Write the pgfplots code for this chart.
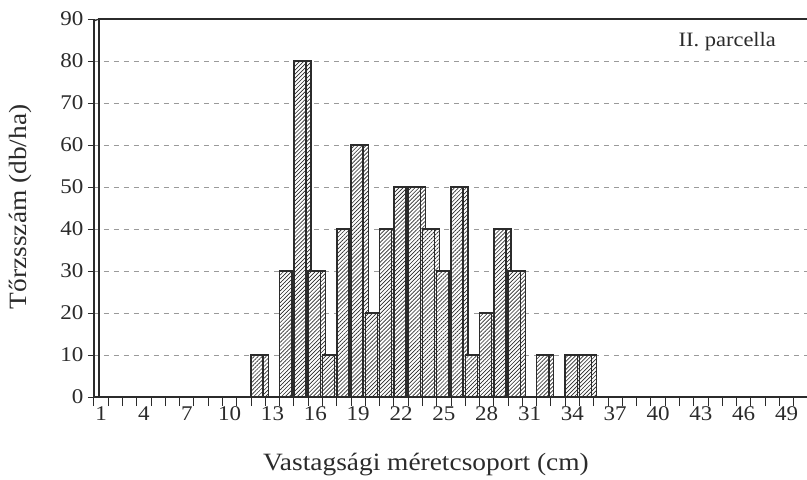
\documentclass[border=0pt]{standalone}
\usepackage{fontspec}
\setmainfont{Liberation Serif}
\newfontfamily\widefont[FakeStretch=1.1]{Liberation Serif}
\usepackage{pgfplots}
\pgfplotsset{compat=1.18}
\usetikzlibrary{patterns.meta}
\definecolor{ink}{HTML}{2B2B2B}
\definecolor{gridc}{HTML}{9A9A9A}
\pgfplotstableread{
x y
12 10
14 30
15 80
16 30
17 10
18 40
19 60
20 20
21 40
22 50
23 50
24 40
25 30
26 50
27 10
28 20
29 40
30 30
32 10
34 10
35 10
}\datatab
\begin{document}
\begin{tikzpicture}
\begin{axis}[
  scale only axis, width=714bp, height=378bp,
  xmin=0.5, xmax=50.5, ymin=0, ymax=90,
  axis x line=bottom, axis y line=left,
  x axis line style={ink, line width=2.5bp, -},
  y axis line style={ink, line width=1.2bp, -},
  tick align=outside,
  xtick={1,4,...,49},
  major x tick style={draw=none},
  minor xtick={0.5,1.5,...,50.5},
  minor x tick style={ink, line width=1bp},
  minor tick length=9bp,
  ytick={0,10,...,90},
  major y tick style={ink, line width=1bp},
  major tick length=6bp,
  ymajorgrids,
  y grid style={gridc, line width=0.6bp, dash pattern=on 5bp off 5bp},
  /pgf/number format/assume math mode=true,
  ticklabel style={font=\widefont\fontsize{21}{21}\selectfont, text=ink},
  xticklabel style={yshift=0bp},
  yticklabel style={xshift=-1bp},
  xlabel={Vastagsági méretcsoport (cm)},
  ylabel={Tőrzsszám (db/ha)},
  xlabel style={at={(axis description cs:0.465,0)}, yshift=-68bp, anchor=center, font=\widefont\fontsize{25}{25}\selectfont, text=ink},
  ylabel style={at={(axis description cs:-0.1036,0.503)}, anchor=center, font=\widefont\fontsize{25}{25}\selectfont, text=ink},
  clip=false,
]
\addplot[ybar, bar width=0.35, bar shift=0.525, draw=ink, line width=1.3bp, fill=white,
  postaction={pattern={Lines[angle=45,distance=2.8bp,line width=0.65bp]}, pattern color=ink}]
  table[x=x,y=y] {\datatab};
\addplot[ybar, bar width=0.85, bar shift=-0.075, draw=ink, line width=1.5bp, fill=white,
  postaction={pattern={Lines[angle=45,distance=2.8bp,line width=0.65bp]}, pattern color=ink}]
  table[x=x,y=y] {\datatab};
\coordinate (O) at (rel axis cs:0,0);
\coordinate (T) at (rel axis cs:0,1);
\coordinate (TR) at (rel axis cs:1,1);
\node[anchor=center, font=\widefont\fontsize{20.5}{20.5}\selectfont, text=ink] at (rel axis cs:0.887,0.939) {II. parcella};
\end{axis}
\draw[ink, line width=1.2bp] ([xshift=5bp]O) -- ([xshift=5bp]T) -- (TR);
\draw[ink, line width=1.2bp] ([yshift=-2bp]T) -- ([xshift=5bp]T);
\pgfresetboundingbox
\path (O) ++(-94bp,-83bp) rectangle ++(807bp,480bp);
\end{tikzpicture}
\end{document}
